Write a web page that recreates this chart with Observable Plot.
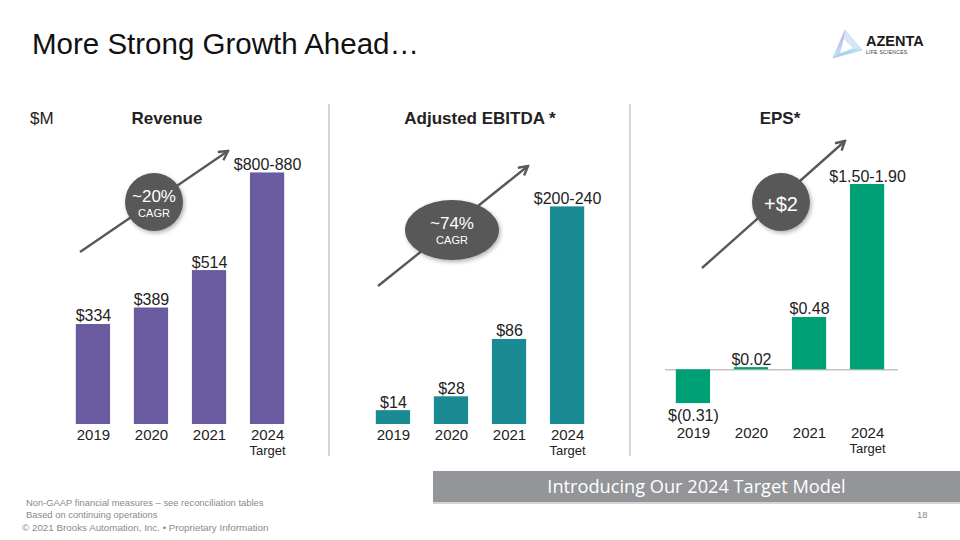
<!DOCTYPE html>
<html>
<head>
<meta charset="utf-8">
<script src="https://cdn.jsdelivr.net/npm/d3@7"></script>
<script src="https://cdn.jsdelivr.net/npm/@observablehq/plot@0.6"></script>
<style>
  html, body { margin: 0; padding: 0; background: #fff; }
  #page { position: relative; width: 960px; height: 540px; overflow: hidden; font-family: "Liberation Sans", Arial, sans-serif; color: #222; }
  .abs { position: absolute; white-space: nowrap; }
  .title { left: 32px; top: 27px; font-size: 29.5px; color: #111; }
  .ptitle { font-size: 17px; font-weight: bold; color: #222; transform: translateX(-50%); top: 109px; }
  .foot { font-size: 9.4px; color: #8a8a8a; }
  .panel { position: absolute; top: 130px; }
  #banner { left: 433px; top: 471px; width: 527px; height: 31px; background: #939598; border-bottom: 2px solid #d4d4d6; color: #fff; font-size: 18.2px; text-align: center; line-height: 31px; font-family: "Open Sans", "Liberation Sans", sans-serif; }
</style>
</head>
<body>
<div id="page">
  <div class="abs title">More Strong Growth Ahead…</div>
  <div class="abs" style="left:30px;top:109px;font-size:17px;color:#222;">$M</div>
  <div class="abs ptitle" style="left:167px;">Revenue</div>
  <div class="abs ptitle" style="left:480px;">Adjusted EBITDA *</div>
  <div class="abs ptitle" style="left:780px;">EPS*</div>
  <div class="abs" id="banner">Introducing Our 2024 Target Model</div>
  <div class="abs foot" style="left:26px;top:497px;">Non-GAAP financial measures – see reconciliation tables</div>
  <div class="abs foot" style="left:26px;top:509px;">Based on continuing operations</div>
  <div class="abs foot" style="left:22px;top:522px;font-size:9.8px;">© 2021 Brooks Automation, Inc. • Proprietary Information</div>
  <div class="abs foot" style="left:917px;top:509px;">18</div>
  <div id="p1" class="panel" style="left:39px;"></div>
  <div id="p2" class="panel" style="left:339px;"></div>
  <div id="p3" class="panel" style="left:638px;"></div>
  <svg id="deco" class="abs" style="left:0;top:0;" width="960" height="540"></svg>
</div>
<script>
// ---- data ----
const years = ["2019", "2020", "2021", "2024"];
const targetYear = "2024";
const targetNote = "Target";

const revenue = [334, 389, 514, 840];
const revenueLabels = ["$334", "$389", "$514", "$800-880"];

const ebitda = [14, 28, 86, 220];
const ebitdaLabels = ["$14", "$28", "$86", "$200-240"];

const eps = [-0.31, 0.02, 0.48, 1.70];
const epsLabels = ["$(0.31)", "$0.02", "$0.48", "$1.50-1.90"];

function panel(values, labels, color, yDomain, opt) {
  const data = years.map((y, i) => ({year: y, value: values[i], label: labels[i]}));
  const marks = [];
  if (opt.zeroRule) marks.push(Plot.ruleY([0], {stroke: "#c4c4c4", strokeWidth: 1.5, insetLeft: 13, insetRight: 10}));
  marks.push(
    Plot.barY(data, {x: "year", y: "value", fill: color}),
    Plot.text(data.filter(d => d.value >= 0), {x: "year", y: "value", text: "label", lineAnchor: "bottom", dy: -3, fontSize: 16}),
    Plot.text(data.filter(d => d.value < 0), {x: "year", y: "value", text: "label", lineAnchor: "top", dy: 6, fontSize: 16}),
    Plot.axisX({tickSize: 0, tickPadding: 5, fontSize: 15, label: null}),
    Plot.text([targetYear], {x: d => d, text: () => targetNote, frameAnchor: "bottom", lineAnchor: "top", dy: 21, fontSize: 13})
  );
  return Plot.plot({
    width: 282,
    height: 340,
    marginLeft: opt.ml,
    marginRight: opt.mr,
    marginTop: opt.mt,
    marginBottom: opt.mb,
    x: {domain: years, padding: 0.41, axis: null, round: false},
    y: {domain: yDomain, axis: null},
    style: {background: "transparent", fontFamily: "Liberation Sans, Arial, sans-serif", fontSize: "15px", color: "#222", overflow: "visible"},
    marks
  });
}

document.getElementById("p1").append(panel(revenue, revenueLabels, "#6a5a9f", [0, 915], {ml: 13, mr: 13, mt: 20, mb: 46}));
document.getElementById("p2").append(panel(ebitda, ebitdaLabels, "#1b8b93", [0, 277], {ml: 13, mr: 13, mt: 20, mb: 46}));
document.getElementById("p3").append(panel(eps, epsLabels, "#00a077", [-0.4835, 2.012], {ml: 14, mr: 12, mt: 20, mb: 48, zeroRule: true}));

// ---- decorations (dividers, arrows, callouts, logo) ----
const svg = d3.select("#deco");
const defs = svg.append("defs");
defs.append("marker").attr("id", "ah").attr("viewBox", "0 0 12 12").attr("refX", 10).attr("refY", 6)
  .attr("markerWidth", 12).attr("markerHeight", 12).attr("markerUnits", "userSpaceOnUse").attr("orient", "auto")
  .append("path").attr("d", "M1,1 L10,6 L1,11").attr("fill", "none").attr("stroke", "#595959").attr("stroke-width", 2.4);
const f = defs.append("filter").attr("id", "sh").attr("x", "-30%").attr("y", "-30%").attr("width", "160%").attr("height", "160%");
f.append("feDropShadow").attr("dx", 1.5).attr("dy", 2).attr("stdDeviation", 2).attr("flood-color", "#000").attr("flood-opacity", 0.3);

[329, 630].forEach(x => svg.append("line").attr("x1", x).attr("x2", x).attr("y1", 104).attr("y2", 456).attr("stroke", "#d8d4cf").attr("stroke-width", 2));

const callouts = [
  {a: [80, 252, 228, 151], c: [154, 202, 29, 29], t1: "~20%", t1s: 17, t1y: 202, t2: "CAGR", t2y: 217},
  {a: [378, 286, 528, 166], c: [452, 230, 47, 30], t1: "~74%", t1s: 17, t1y: 229, t2: "CAGR", t2y: 244},
  {a: [702, 268, 845, 141], c: [781, 202, 29, 29], t1: "+$2", t1s: 20, t1y: 211, t2: null}
];
callouts.forEach(o => {
  svg.append("line").attr("x1", o.a[0]).attr("y1", o.a[1]).attr("x2", o.a[2]).attr("y2", o.a[3])
    .attr("stroke", "#595959").attr("stroke-width", 2.4).attr("marker-end", "url(#ah)");
  svg.append("ellipse").attr("cx", o.c[0]).attr("cy", o.c[1]).attr("rx", o.c[2]).attr("ry", o.c[3])
    .attr("fill", "#595959").attr("filter", "url(#sh)");
  svg.append("text").attr("x", o.c[0]).attr("y", o.t1y).attr("text-anchor", "middle").attr("fill", "#fff")
    .attr("font-size", o.t1s).attr("font-family", "Liberation Sans, Arial, sans-serif").text(o.t1);
  if (o.t2) svg.append("text").attr("x", o.c[0]).attr("y", o.t2y).attr("text-anchor", "middle").attr("fill", "#fff")
    .attr("font-size", 11).attr("font-family", "Liberation Sans, Arial, sans-serif").text(o.t2);
});

// logo
const lg = svg.append("g");
const grad = defs.append("linearGradient").attr("id", "lgg").attr("x1", 0).attr("y1", 0).attr("x2", 1).attr("y2", 1);
grad.append("stop").attr("offset", "0%").attr("stop-color", "#b9a8e0");
grad.append("stop").attr("offset", "100%").attr("stop-color", "#7fd6e8");
for (let i = 0; i < 6; i++) {
  const s = i * 1.6;
  lg.append("path").attr("d", `M${845 - s * 0.2},${30 + s} L${833 + s * 0.8},${58 - s * 0.5} L${862 - s},${50 - s * 0.2} Z`)
    .attr("fill", "none").attr("stroke", "url(#lgg)").attr("stroke-width", 0.7).attr("stroke-linejoin", "round").attr("opacity", 0.9);
}
lg.append("text").attr("x", 866).attr("y", 46).attr("font-size", 14.5).attr("font-weight", "bold").attr("fill", "#1a1a1a")
  .attr("font-family", "Liberation Sans, Arial, sans-serif").text("AZENTA");
lg.append("text").attr("x", 866).attr("y", 53.5).attr("font-size", 5).attr("fill", "#333")
  .attr("font-family", "Liberation Sans, Arial, sans-serif").attr("letter-spacing", 0.3).text("LIFE SCIENCES");
</script>
</body>
</html>
